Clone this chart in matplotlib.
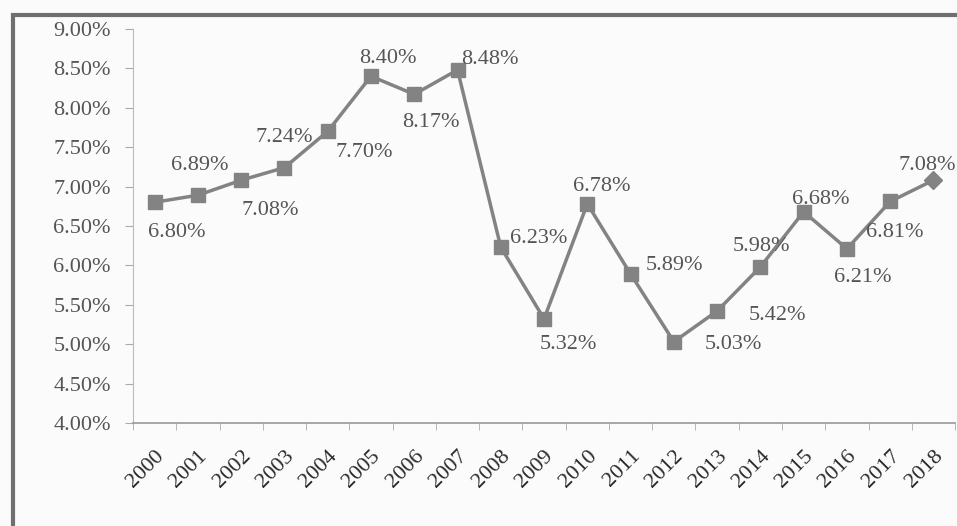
import matplotlib.pyplot as plt
from matplotlib.patches import Rectangle

# Values
years = ['2000', '2001', '2002', '2003', '2004', '2005', '2006', '2007', '2008', '2009',
         '2010', '2011', '2012', '2013', '2014', '2015', '2016', '2017', '2018']
rates = [6.80, 6.89, 7.08, 7.24, 7.70, 8.40, 8.17, 8.48, 6.23, 5.32,
         6.78, 5.89, 5.03, 5.42, 5.98, 6.68, 6.21, 6.81, 7.08]
y_ticks = [4.0, 4.5, 5.0, 5.5, 6.0, 6.5, 7.0, 7.5, 8.0, 8.5, 9.0]

# label offsets in pixels (dx right, dy down)
label_offsets = [(22, 30), (2, -30), (29, 30), (0, -30), (37, 21), (17, -18), (17, 28),
                 (32, -10), (38, -9), (24, 26), (14, -17), (44, -8), (60, 3), (60, 4),
                 (1, -20), (17, -12), (16, 29), (5, 31), (-6, -15)]

plt.rcParams['font.family'] = ['Liberation Serif', 'DejaVu Serif']

line_col = '#838383'
text_col = '#555555'

fig = plt.figure(figsize=(9.57, 5.26), dpi=100)
fig.patch.set_facecolor('#fbfbfb')
ax = fig.add_axes([0.139, 0.196, 0.859, 0.749])
ax.set_facecolor('none')

x = list(range(len(years)))
ax.plot(x[:-1], rates[:-1], color=line_col, lw=2.5, marker='s', ms=10,
        mfc=line_col, mec=line_col, zorder=3)
ax.plot(x[-2:], rates[-2:], color=line_col, lw=2.5, zorder=3)
ax.plot(x[-1], rates[-1], marker='D', ms=9, color=line_col, zorder=4)

for i, v in enumerate(rates):
    dx, dy = label_offsets[i]
    ax.annotate('%.2f%%' % v, (x[i], v), xytext=(dx, -dy), textcoords='offset pixels',
                ha='center', va='center', fontsize=16, color=text_col)

ax.set_xlim(-0.5, len(years) - 0.5)
ax.set_ylim(4.0, 9.0)
ax.set_yticks(y_ticks)
ax.set_yticklabels(['%.2f%%' % t for t in y_ticks], fontsize=16, color=text_col)
ax.set_xticks(x)
ax.set_xticklabels(years, rotation=45, ha='right', rotation_mode='anchor',
                   fontsize=16, color='#2a2a2a')
ax.set_xticks([i - 0.5 for i in range(len(years) + 1)], minor=True)
ax.tick_params(axis='x', which='major', length=0, pad=17)
ax.tick_params(axis='x', which='minor', length=5, color='#aaaaaa')
ax.tick_params(axis='y', length=6, color='#aaaaaa', pad=10)

for s in ['top', 'right']:
    ax.spines[s].set_visible(False)
ax.spines['left'].set_color('#bbbbbb')
ax.spines['bottom'].set_color('#999999')
ax.spines['bottom'].set_linewidth(1.2)

# outer frame of the scanned chart
fig.patches.append(Rectangle((13 / 957, -0.05), 1.0, 1 - 15 / 526 + 0.05,
                             transform=fig.transFigure, fill=False,
                             ec='#6f6f6f', lw=3))

fig.savefig('out.png', dpi=100)
